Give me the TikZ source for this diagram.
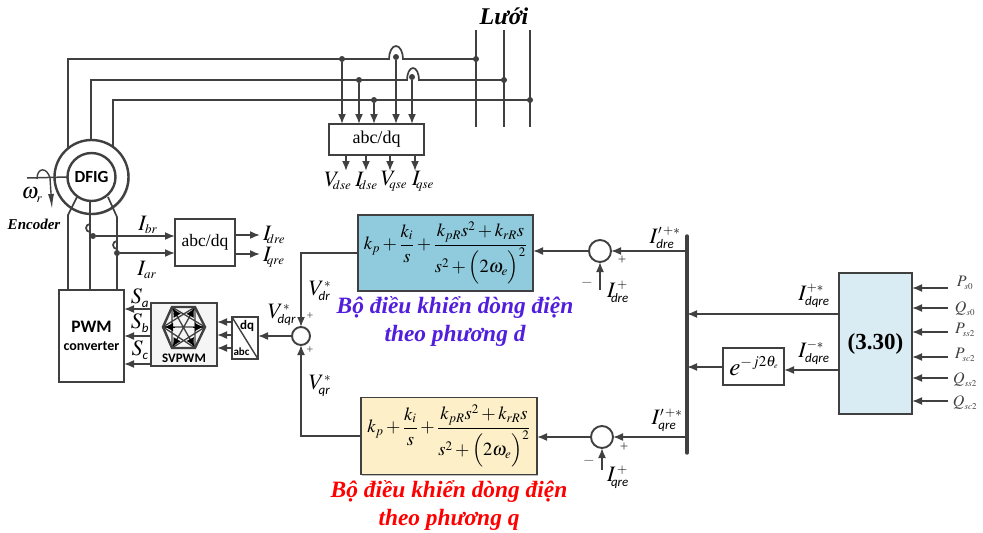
\documentclass[tikz,border=0pt]{standalone}
\usepackage{mathptmx}
\usepackage{amsmath}
\usepackage[no-math]{fontspec}
\setmainfont{Liberation Serif}
\setsansfont{Carlito}
\usetikzlibrary{arrows.meta,calc,shadows}
\definecolor{ln}{HTML}{404040}
\DeclareMathSizes{22}{22}{13}{10}
\DeclareMathSizes{18.5}{18.5}{13}{10}
\DeclareMathSizes{25}{25}{15}{8}
\DeclareMathSizes{16}{16}{9}{7}
\newcommand{\myfs}[1]{\fontsize{#1}{#1}\selectfont}
\newcommand{\sbs}[1]{\text{\sffamily\itshape #1}}
\tikzset{
 wire/.style={draw=ln,line width=1.7pt},
 arr/.style={wire,-{Latex[length=10pt,width=8pt]}},
 shd/.style={drop shadow={shadow xshift=1.2pt,shadow yshift=-1.2pt,opacity=0.25,fill=black}},
 boxn/.style={draw=ln,line width=1.8pt,inner sep=0pt,outer sep=0pt,align=center,shd,fill=white},
 sumn/.style={circle,draw=ln,line width=1.9pt,fill=white,inner sep=0pt,outer sep=0pt,minimum size=#1},
 dotn/.style={circle,fill=ln,inner sep=0pt,minimum size=6pt},
 lab/.style={inner sep=0pt,outer sep=0pt,text=black},
 sgn/.style={inner sep=0pt,text=ln,font=\myfs{12}},
 ctrl/.style={inner sep=0pt,font=\myfs{23.4}\bfseries\itshape},
 pitext/.style={font=\myfs{18.5}},
}
\newcommand{\pifrac}{$\displaystyle k_p+\frac{k_i}{s}+\frac{k_{pR}s^2+k_{rR}s}{s^2+\Bigl(2\omega_e\Bigr)^2}$}
\begin{document}
\begin{tikzpicture}[x=1pt,y=-1pt]
\useasboundingbox (0,0) rectangle (983,533);
% nodes: machine
\node[circle,draw=ln,line width=2.4pt,minimum size=74pt,inner sep=0pt,outer sep=0pt,shd,fill=white] (stator) at (91.5,177) {};
\node[circle,draw=ln,line width=2.4pt,minimum size=48pt,inner sep=0pt,outer sep=0pt,font=\myfs{17}\sffamily\bfseries] (rotor) at (91.5,177) {DFIG};
\node[boxn,line width=2.4pt,minimum width=65pt,minimum height=92pt,font=\sffamily\bfseries] (pwm) at (91.5,336) {{\myfs{17.5}PWM}\\[6pt]{\myfs{14}converter}};
\node[boxn,minimum width=60pt,minimum height=47pt,font=\myfs{17.5}] (rdq) at (205,242.5) {abc/dq};
\node[boxn,minimum width=95pt,minimum height=31pt,font=\myfs{18}] (sdq) at (376.5,139.5) {abc/dq};
\node[boxn,fill=black!4,minimum width=66pt,minimum height=63pt] (svpwm) at (184,334.5) {};
\node[font=\myfs{13}\sffamily\bfseries,inner sep=0pt] (svt) at (184,358.5) {SVPWM};
\node[boxn,minimum width=26pt,minimum height=42pt] (conv) at (245,338) {};
\node[boxn,minimum width=61pt,minimum height=37pt] (exp) at (753.5,366.5) {};
\node[lab,font=\myfs{25}] (expt) at (754,366) {$e^{-j2\theta_e}$};
\node[sumn=18pt] (sumv) at (301,336) {};
\node[sumn=22pt] (sumd) at (600,251) {};
\node[sumn=22pt] (sumq) at (602,437) {};
\node[boxn,fill={rgb,255:red,143;green,203;blue,220},minimum width=175pt,minimum height=76pt,pitext] (pid) at (445.5,253) {\pifrac};
\node[boxn,fill={rgb,255:red,253;green,240;blue,200},minimum width=176pt,minimum height=77pt,pitext] (piq) at (449,436) {\pifrac};
\node[boxn,fill={rgb,255:red,218;green,236;blue,243},minimum width=73pt,minimum height=141pt,font=\myfs{23}\bfseries] (calc) at (875.5,343.5) {(3.30)};
% grid
\coordinate (ga1) at (476,30); \coordinate (ga2) at (476,127);
\coordinate (gb1) at (504,30); \coordinate (gb2) at (504,127);
\coordinate (gc1) at (530,30); \coordinate (gc2) at (530,127);
\draw[wire] (ga1)--(ga2); \draw[wire] (gb1)--(gb2); \draw[wire] (gc1)--(gc2);
\node[lab,font=\myfs{24}\bfseries\itshape] (luoi) at (504,16) {Lưới};
% stator feeders
\coordinate (c1) at (68,59); \coordinate (c2) at (91,80); \coordinate (c3) at (113,100);
\draw[wire] (68,148) -- (c1) -- (389,59) arc[start angle=180,end angle=360,x radius=7,y radius=13] -- (476,59);
\draw[wire] (91,140) -- (c2) -- (407,80) arc[start angle=180,end angle=360,x radius=6,y radius=12] -- (504,80);
\draw[wire] (113,146) -- (c3) -- (530,100);
\foreach \n/\x/\y in {a/342/59,b/359/80,c/374/100,d/396/57,e/412/77,f/476/59,g/504/80,h/530/100}
  \node[dotn] (d\n) at (\x,\y) {};
\draw[arr] (da) -- (sdq.north -| da);
\draw[arr] (db) -- (sdq.north -| db);
\draw[arr] (dc) -- (sdq.north -| dc);
\draw[arr] (dd) -- (sdq.north -| dd);
\draw[arr] (de) -- (sdq.north -| de);
\foreach \n/\x in {1/346,2/366,3/390,4/415} {
  \coordinate (so\n) at (\x,171);
  \draw[arr] (sdq.south -| so\n) -- (so\n);
}
\node[lab,font=\myfs{22}] (vdse) at (338,181) {$V_{\!\!dse}$};
\node[lab,font=\myfs{22}] (idse) at (366.5,181) {$I_{\!\!dse}$};
\node[lab,font=\myfs{22}] (vqse) at (394,181) {$V_{\!\!qse}$};
\node[lab,font=\myfs{22}] (iqse) at (423,181) {$I_{\!\!qse}$};
% rotor wires
\coordinate (ra) at (68,215); \coordinate (rc) at (117,217);
\draw[wire] (77,197) -- (ra) -- (pwm.north -| ra);
\draw[wire] (90,201) -- (90,289);
\draw[wire] (108,197) -- (rc) -- (pwm.north -| rc);
\draw[wire] (90,232) arc[start angle=90,end angle=270,radius=4] ;
\draw[wire] (117,249) arc[start angle=90,end angle=270,radius=4] ;
\node[dotn] (di1) at (93,236) {};
\node[dotn] (di2) at (117,253) {};
\draw[arr] (di1) -- (rdq.west |- di1);
\draw[arr] (di2) -- (rdq.west |- di2);
\coordinate (ro1) at (260,235); \coordinate (ro2) at (260,254);
\draw[arr] (rdq.east |- ro1) -- (ro1);
\draw[arr] (rdq.east |- ro2) -- (ro2);
\node[lab,font=\myfs{22}] at (148,225) {$I_{br}$};
\node[lab,font=\myfs{22}] at (147,270) {$I_{ar}$};
\node[lab,font=\myfs{22},anchor=west] at (263,235) {$I_{\!\!dre}$};
\node[lab,font=\myfs{22},anchor=west] at (263,257) {$I_{\!\!qre}$};
% shaft and encoder
\coordinate (sh) at (27,178);
\draw[line width=1.5pt,draw=ln] (sh) -- (rotor.west);
\draw[line width=1.4pt,draw=ln,-{Latex[length=15pt,width=6pt]}] (37,179) .. controls (37,167) and (47,167) .. (50,178) -- (52,209);
\node[lab,font=\myfs{22}] at (32,195) {$\omega_r$};
\node[lab,font=\myfs{15}\bfseries\itshape] at (34,224) {Encoder};
% svpwm -> pwm
\foreach \n/\y in {a/309,b/336,c/364} {
  \coordinate (s\n) at (124,\y);
  \draw[arr] (svpwm.west |- s\n) -- (s\n);
}
\node[lab,font=\myfs{22}] at (140,298) {$S_{\sbs{a}}$};
\node[lab,font=\myfs{22}] at (140,323) {$S_{\sbs{b}}$};
\node[lab,font=\myfs{22}] at (140,350) {$S_{\sbs{c}}$};
% hexagon icon
\coordinate (hc) at (184,327);
\coordinate (h1) at (205,327); \coordinate (h2) at (195,307); \coordinate (h3) at (172,307);
\coordinate (h4) at (163,327); \coordinate (h5) at (172,348); \coordinate (h6) at (195,348);
\draw[ln,line width=2.4pt] (h1)--(h2)--(h3)--(h4)--(h5)--(h6)--cycle;
\draw[ln,line width=1.3pt] (h1)--(h4) (h2)--(h5) (h3)--(h6) (h2)--(h4)--(h6)--(h2) (h3)--(h1)--(h5)--(h3);
\foreach \b in {h1,h2,h3,h4,h5,h6} \draw[black,line width=0.1pt,-{Latex[length=8pt,width=8pt]},shorten >=2pt] ($(hc)!0.45!(\b)$) -- (\b);
% conversion block
\draw[wire,line width=1.4pt] (conv.north west) -- (conv.south east);
\node[lab,font=\myfs{13}\sffamily\bfseries] at (247,326) {dq};
\node[lab,font=\myfs{11}\sffamily\bfseries] at (241.5,352) {abc};
\foreach \n/\y in {a/322,b/335,c/348} {
  \coordinate (t\n) at (217,\y);
  \draw[arr] (conv.west |- t\n) -- (t\n);
}
\draw[arr] (sumv) -- (conv.east |- sumv);
\draw[arr] (pid.west) -| (sumv.north);
\draw[arr] (piq.west) -| (sumv.south);
\node[lab,font=\myfs{22}] at (282,315) {$V^{*}_{\!\sbs{dqr}}$};
\node[lab,font=\myfs{22}] at (320,291) {$V^{*}_{\!\sbs{dr}}$};
\node[lab,font=\myfs{22}] at (320,386) {$V^{*}_{\!\sbs{qr}}$};
\node[sgn] at (310,316) {+};
\node[sgn] at (310,350) {+};
% current loops
\coordinate (bt) at (687,236); \coordinate (bb) at (687,453);
\draw[ln,line width=3.4pt,line cap=round] (bt) -- (bb);
\draw[arr] (sumd) -- (pid.east |- sumd);
\draw[arr] (sumq) -- (piq.east |- sumq);
\draw[arr] (bt |- sumd) -- (sumd);
\draw[arr] (bt |- sumq) -- (sumq);
\coordinate (ud) at (600,290); \coordinate (uq) at (602,470);
\draw[arr] (ud) -- (sumd);
\draw[arr] (uq) -- (sumq);
\node[sgn,font=\myfs{15}] at (587,283) {$-$};
\node[sgn,font=\myfs{15}] at (622,260) {+};
\node[sgn,font=\myfs{15}] at (589,461) {$-$};
\node[sgn,font=\myfs{15}] at (624,447) {+};
\node[lab,font=\myfs{22}] at (665,238) {$I'^{\,+*}_{\sbs{dre}}$};
\node[lab,font=\myfs{22}] at (667,420) {$I'^{\,+*}_{\sbs{qre}}$};
\node[lab,font=\myfs{22}] at (618,292) {$I^{\,+}_{\!\!\sbs{dre}}$};
\node[lab,font=\myfs{22}] at (618,477) {$I^{\,+}_{\!\!\sbs{qre}}$};
% current references
\coordinate (cu) at (839,314); \coordinate (cl) at (839,370);
\draw[arr] (cu) -- (bt |- cu);
\draw[arr] (cl) -- (exp.east |- cl);
\draw[arr] (exp.west |- 0,367) -- (bt |- 0,367);
\node[lab,font=\myfs{22}] at (814,296) {$I^{+*}_{\sbs{dqre}}$};
\node[lab,font=\myfs{22}] at (814,353) {$I^{-*}_{\sbs{dqre}}$};
% inputs
\foreach \n/\y/\t/\xx/\yy in {1/288/P_{s0}/965/283,2/308/Q_{s0}/965/309,3/332/P_{ss2}/965/330,4/357/P_{sc2}/965/355,5/378/Q_{ss2}/965/380,6/401/Q_{sc2}/965/403} {
  \coordinate (in\n) at (948,\y);
  \draw[arr] (in\n) -- (calc.east |- in\n);
  \node[lab,font=\myfs{16},text=ln] at (\xx,\yy) {$\t$};
}
% captions
\node[ctrl,text={rgb,255:red,80;green,30;blue,220}] at (455,308) {Bộ điều khiển dòng điện};
\node[ctrl,text={rgb,255:red,80;green,30;blue,220}] at (455,336) {theo phương d};
\node[ctrl,text=red] at (449,492) {Bộ điều khiển dòng điện};
\node[ctrl,text=red] at (449,520) {theo phương q};
\end{tikzpicture}
\end{document}
